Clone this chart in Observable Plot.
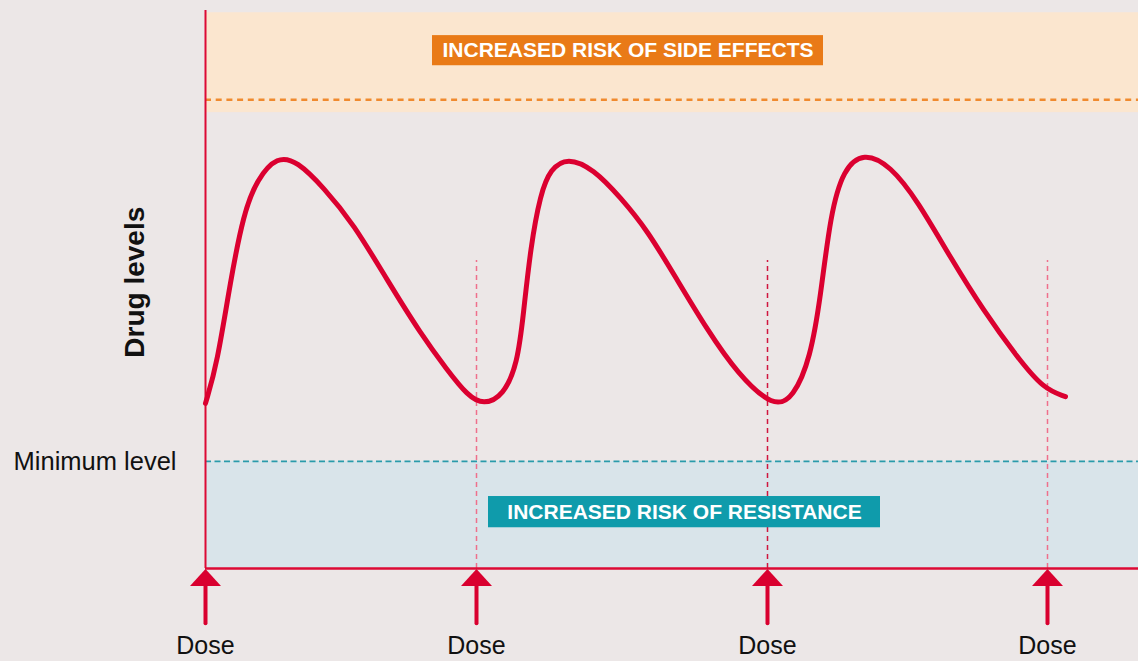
<!DOCTYPE html>
<html>
<head>
<meta charset="utf-8">
<script src="https://cdn.jsdelivr.net/npm/d3@7"></script>
<script src="https://cdn.jsdelivr.net/npm/@observablehq/plot@0.6"></script>
<style>
  html, body { margin: 0; padding: 0; background: #ece7e7; }
  svg { display: block; }
</style>
</head>
<body>
<div id="chart"></div>
<script>
// ---- Data (time in arbitrary units, drug level in % of plotted range) ----
const doseTimes = [0, 27.1, 56.2, 84.2];
const doseLabels = ["Dose", "Dose", "Dose", "Dose"];

const curveTime = [0, 1.17, 2.5, 3.8, 5.17, 7.17, 9.17, 11.8, 14.8, 18.2, 21.5, 24.2, 26.2, 27.8,
  29.8, 31.2, 31.8, 32.5, 33.5, 34.5, 36.2, 38.8, 41.5, 44.2, 47.2, 50.2, 53.2, 56.8,
  58.8, 60.5, 61.5, 62.5, 63.8, 65.8, 68.5, 71.2, 74.5, 77.8, 81.2, 83.8, 86.0];
const curveLevel = [29.6, 36.7, 51.6, 63.6, 69.8, 73.9, 73.0, 68.3, 61.8, 51.6, 42.1, 35.5, 31.0, 29.3,
  31.0, 36.7, 45.7, 57.5, 67.2, 71.6, 73.7, 71.6, 66.5, 60.6, 51.6, 42.7, 34.9, 28.8,
  30.6, 37.8, 48.6, 63.6, 71.6, 74.6, 72.2, 65.9, 55.7, 46.2, 37.8, 32.2, 30.8];

const minimumLevel = 19.2;       // dashed teal line
const sideEffectLevel = 84.0;    // dashed orange line
const sideEffectBand = [81.7, 99.6];
const resistanceBand = [0, minimumLevel];

const labelNames = ["INCREASED RISK OF SIDE EFFECTS", "INCREASED RISK OF RESISTANCE"];
const labelT1 = [22.7, 28.3];
const labelT2 = [61.8, 67.5];
const labelV1 = [90.1, 7.3];
const labelV2 = [95.5, 12.9];
const labelColors = ["#e97a17", "#0f9bab"];

const doseLineTop = 55.2;
const doseLineColors = ["#ef6f8c", "#d0163f", "#ef6f8c"];

// ---- Derived tables ----
const tMax = 93.3;
const curve = curveTime.map((t, i) => ({t, v: curveLevel[i]}));
const labels = labelNames.map((name, i) => ({name, x1: labelT1[i], x2: labelT2[i], y1: labelV1[i], y2: labelV2[i], color: labelColors[i]}));
const doseLines = doseTimes.slice(1).map((t, i) => ({t, color: doseLineColors[i]}));
const doses = doseTimes.map((t, i) => ({t, label: doseLabels[i]}));

const red = "#dc0a35";
const arrowBase = -9.9, arrowHead = -1.7, labelLevel = -13.8;

const triangle = {
  draw(context) {
    context.moveTo(0, -9);
    context.lineTo(15.5, 8);
    context.lineTo(-15.5, 8);
    context.closePath();
  }
};

const chart = Plot.plot({
  width: 1138,
  height: 661,
  marginLeft: 205,
  marginRight: 0,
  marginTop: 10,
  marginBottom: 93,
  style: {background: "#ece7e7", fontFamily: "'Liberation Sans', Arial, sans-serif"},
  x: {domain: [0, tMax], axis: null},
  y: {domain: [0, 100], axis: null},
  marks: [
    // bands
    Plot.rect([sideEffectBand], {x1: 0, x2: tMax, y1: d => d[0], y2: d => d[1], fill: "#fbe6cf"}),
    Plot.rect([resistanceBand], {x1: 0, x2: tMax, y1: d => d[0], y2: d => d[1], fill: "#d9e4ea"}),
    // threshold lines
    Plot.ruleY([sideEffectLevel], {x1: 0, x2: tMax, stroke: "#f08a2e", strokeWidth: 2.5, strokeDasharray: "6,4.7"}),
    Plot.ruleY([minimumLevel], {x1: 0, x2: tMax, stroke: "#2a9bab", strokeWidth: 1.8, strokeDasharray: "6,3.5"}),
    // dose dashed lines
    Plot.ruleX(doseLines, {x: "t", y1: 0, y2: doseLineTop, stroke: "color", strokeWidth: 1.5, strokeDasharray: "5,4"}),
    // label boxes
    Plot.rect(labels, {x1: "x1", x2: "x2", y1: "y1", y2: "y2", fill: "color"}),
    Plot.text(labels, {x: d => (d.x1 + d.x2) / 2, y: d => (d.y1 + d.y2) / 2, text: "name",
      fill: "white", fontSize: 21, fontWeight: "bold"}),
    // axes
    Plot.ruleX([0], {y1: 0, y2: 100, stroke: red, strokeWidth: 2}),
    Plot.ruleY([0], {x1: 0, x2: tMax, stroke: red, strokeWidth: 2.5}),
    // drug level curve
    Plot.line(curve, {x: "t", y: "v", curve: "basis", stroke: "#db0030", strokeWidth: 5, strokeLinecap: "round"}),
    // dose arrows
    Plot.ruleX(doses, {x: "t", y1: arrowBase, y2: arrowHead, stroke: "#d9002f", strokeWidth: 4, strokeLinecap: "round"}),
    Plot.dot(doses, {x: "t", y: arrowHead, symbol: triangle, fill: "#d9002f", stroke: "none"}),
    Plot.text(doses, {x: "t", y: labelLevel, text: "label", fontSize: 25, fill: "#111"}),
    // annotations
    Plot.text(["Minimum level"], {x: -2.9, y: minimumLevel, text: d => d, textAnchor: "end", fontSize: 25.5, fill: "#111"}),
    Plot.text(["Drug levels"], {x: -7.0, y: 51.3, text: d => d, rotate: -90, fontSize: 28, fontWeight: "bold", fill: "#111"})
  ]
});
document.getElementById("chart").appendChild(chart);
</script>
</body>
</html>
